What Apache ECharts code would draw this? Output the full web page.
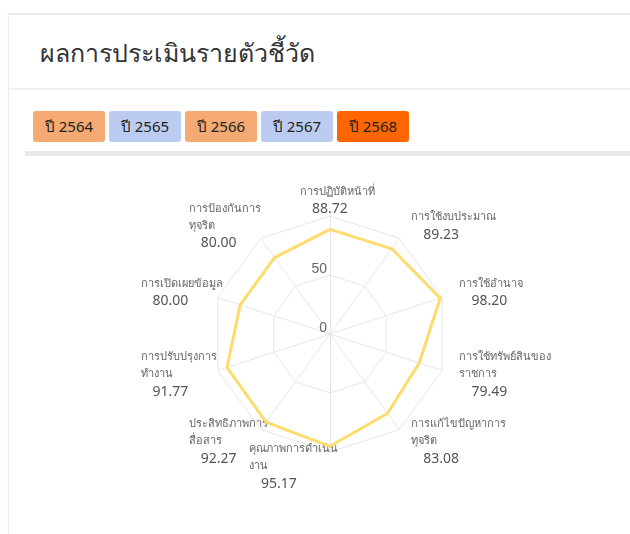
<!DOCTYPE html>
<html>
<head>
<meta charset="utf-8">
<script src="https://cdn.jsdelivr.net/npm/echarts@6/dist/echarts.min.js"></script>
<style>
  html, body { margin: 0; padding: 0; background: #fff; width: 630px; height: 534px; overflow: hidden; font-family: "Noto Sans", sans-serif; }
  .card { position: absolute; left: 8px; top: 13px; width: 640px; height: 540px; border-top: 2px solid #e8edf3; border-left: 1px solid #e8edf3; box-sizing: border-box; }
  .head { position: absolute; left: 0; top: 0; right: 0; height: 73px; border-bottom: 2px solid #eceff3; }
  .title { position: absolute; left: 31px; top: 18px; font-size: 25px; color: #333; white-space: nowrap; }
  .btns { position: absolute; left: 24px; top: 96px; white-space: nowrap; font-size: 0; }
  .btn { display: inline-block; width: 72px; height: 31px; line-height: 31px; text-align: center; border-radius: 3px; font-size: 15px; color: #222; margin-right: 4px; }
  .bar { position: absolute; left: 16px; top: 136px; width: 620px; height: 5px; background: #e9e9e9; }
  #chart { position: absolute; left: 0; top: 0; width: 630px; height: 534px; }
</style>
</head>
<body>
<div class="card">
  <div class="head"><div class="title">ผลการประเมินรายตัวชี้วัด</div></div>
  <div class="btns" id="btns"></div>
  <div class="bar"></div>
</div>
<div id="chart"></div>
<script>
// Year buttons
const years = ['ปี 2564', 'ปี 2565', 'ปี 2566', 'ปี 2567', 'ปี 2568'];
const yearColors = ['#f4aa72', '#bccbf0', '#f4aa72', '#bccbf0', '#ff6600'];

// Indicators (clockwise from top) and values
const indicatorNames = [
  'การปฏิบัติหน้าที่',
  'การใช้งบประมาณ',
  'การใช้อำนาจ',
  'การใช้ทรัพย์สินของ\nราชการ',
  'การแก้ไขปัญหาการ\nทุจริต',
  'คุณภาพการดำเนิน\nงาน',
  'ประสิทธิภาพการ\nสื่อสาร',
  'การปรับปรุงการ\nทำงาน',
  'การเปิดเผยข้อมูล',
  'การป้องกันการ\nทุจริต'
];
const scores = [88.72, 89.23, 98.20, 79.49, 83.08, 95.17, 92.27, 91.77, 80.00, 80.00];
const maxScore = 100;

const btns = document.getElementById('btns');
years.forEach((y, i) => {
  const d = document.createElement('div');
  d.className = 'btn';
  d.style.background = yearColors[i];
  d.textContent = y;
  btns.appendChild(d);
});

// ECharts radar goes counter-clockwise; reorder so the chart reads clockwise
const order = indicatorNames.map((_, i) => (indicatorNames.length - i) % indicatorNames.length);
const indNames = order.map(i => indicatorNames[i]);
const indScores = order.map(i => scores[i]);
const bottomName = indicatorNames[5];

const nameStyle = { fontSize: 11, color: '#666', lineHeight: 17, align: 'left', fontFamily: 'Noto Sans, sans-serif' };
const valStyle = { fontSize: 14, color: '#555', lineHeight: 19, align: 'left', fontFamily: 'Noto Sans, sans-serif' };

const chart = echarts.init(document.getElementById('chart'), null, { renderer: 'canvas' });
chart.setOption({
  animation: false,
  radar: {
    center: [330, 334],
    radius: 118,
    startAngle: 90,
    splitNumber: 2,
    shape: 'polygon',
    indicator: indNames.map((n, i) => i === 0
      ? { name: n, max: maxScore, min: 0, axisLabel: { show: true } }
      : { name: n, max: maxScore, min: 0 }),
    axisName: {
      verticalAlign: 'middle',
      formatter: function (name) {
        const i = indNames.indexOf(name);
        const k = name === bottomName ? 'B' : 'A';
        return '{n' + k + '|' + name.split('\n').join('}\n{n' + k + '|') + '}\n{v' + k + '|' + indScores[i].toFixed(2) + '}';
      },
      rich: {
        nA: Object.assign({}, nameStyle, { width: 60, padding: [0, 3, 0, 3] }),
        vA: Object.assign({}, valStyle, { width: 48, padding: [0, 3, 0, 15] }),
        nB: Object.assign({}, nameStyle, { width: 162, padding: [0, 3, 0, 3] }),
        vB: Object.assign({}, valStyle, { width: 150, padding: [0, 3, 0, 15] })
      }
    },
    nameGap: 15,
    axisLine: { lineStyle: { color: '#e6e6e6' } },
    splitLine: { lineStyle: { color: '#e6e6e6' } },
    splitArea: { show: false },
    axisLabel: {
      show: false,
      fontSize: 14,
      color: '#666',
      margin: 3,
      align: 'right',
      verticalAlign: 'bottom',
      lineHeight: 12,
      showMaxLabel: false,
      formatter: function (v) { return v >= maxScore ? '' : String(v); }
    }
  },
  series: [{
    type: 'radar',
    symbol: 'none',
    lineStyle: { color: '#fedb6d', width: 3 },
    data: [{ value: indScores, name: 'ปี 2568' }]
  }]
});
</script>
</body>
</html>
